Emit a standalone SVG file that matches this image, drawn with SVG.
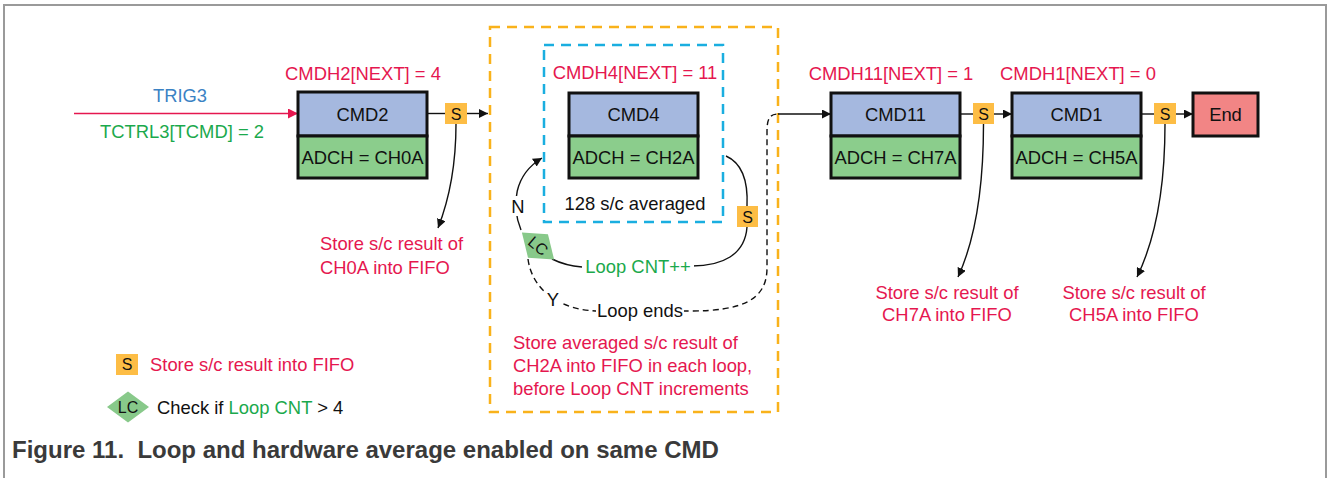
<svg xmlns="http://www.w3.org/2000/svg" width="1328" height="478" viewBox="0 0 1328 478">
  <style>
    text { font-family: "Liberation Sans", Arial, sans-serif; font-size: 18.4px; }
    .c { text-anchor: middle; }
    .red { fill: #e5174f; }
    .grn { fill: #1ba94c; }
    .blu { fill: #3b82c4; }
    .blk { fill: #111; }
    .top { fill: #a5b8df; stroke: #111; stroke-width: 3; }
    .bot { fill: #8bcd8c; stroke: #111; stroke-width: 3; }
    .end { fill: #f28585; stroke: #111; stroke-width: 3; }
    .s { fill: #fdbd45; }
    .st { font-size: 16px; text-anchor: middle; fill: #111; }
    .lc { fill: #88c98a; }
    .ln { fill: none; stroke: #111; stroke-width: 1.4; }
    .dash { fill: none; stroke: #111; stroke-width: 1.4; stroke-dasharray: 6 4; }
    .lbl { fill: #fff; }
    .cap { font-weight: bold; font-size: 24px; fill: #3a3a3a; }
  </style>
  <defs>
    <marker id="ah" viewBox="0 0 10 10" refX="10" refY="5" markerWidth="9" markerHeight="9" markerUnits="userSpaceOnUse" orient="auto">
      <path d="M0,0 L10,5 L0,10 z" fill="#111"/>
    </marker>
    <marker id="ahr" viewBox="0 0 10 10" refX="10" refY="5" markerWidth="10" markerHeight="10" markerUnits="userSpaceOnUse" orient="auto">
      <path d="M0,0 L10,5 L0,10 z" fill="#e5174f"/>
    </marker>
  </defs>

  <!-- outer frame -->
  <path d="M4,478 V5 H1326 V478" fill="none" stroke="#9a9a9a" stroke-width="2"/>

  <!-- loop region frames -->
  <g id="loop-frame">
    <rect x="490" y="27" width="288" height="385" fill="none" stroke="#f9b21b" stroke-width="2.5" stroke-dasharray="10 7"/>
    <rect x="544" y="45" width="179" height="177" fill="none" stroke="#1aaee0" stroke-width="2.5" stroke-dasharray="10 7"/>
  </g>

  <!-- connectors -->
  <g id="connectors">
    <line x1="74" y1="113.5" x2="298" y2="113.5" stroke="#e5174f" stroke-width="1.6" marker-end="url(#ahr)"/>
    <line x1="427" y1="113.5" x2="445" y2="113.5" class="ln"/>
    <line x1="467" y1="113.5" x2="488" y2="113.5" class="ln" marker-end="url(#ah)"/>
    <path d="M456,124 C456,170 447,205 438,228" class="ln" marker-end="url(#ah)"/>

    <!-- loop: store, increment, check -->
    <path d="M726,156 C744,164 748,185 747,206" class="ln"/>
    <path d="M747,227 C745,255 722,266 692,266" class="ln"/>
    <path d="M582,267 C570,266 560,263 552,259" class="ln"/>
    <path d="M521,230 C511,205 514,175 542,158" class="ln" marker-end="url(#ah)"/>
    <path d="M528,259 C532,290 560,311 600,311 L690,311 C742,311 767,300 767,268 L767,132 C767,120 769,114 778,114" class="dash"/>
    <line x1="778" y1="114" x2="831" y2="114" class="ln" marker-end="url(#ah)"/>

    <line x1="960" y1="114" x2="973" y2="114" class="ln"/>
    <line x1="994" y1="114" x2="1012" y2="114" class="ln" marker-end="url(#ah)"/>
    <path d="M983.5,124 C983.5,190 975,240 958,277" class="ln" marker-end="url(#ah)"/>
    <line x1="1141" y1="114" x2="1154" y2="114" class="ln"/>
    <line x1="1176" y1="114" x2="1193" y2="114" class="ln" marker-end="url(#ah)"/>
    <path d="M1165,124 C1165,190 1155,240 1137,277" class="ln" marker-end="url(#ah)"/>
  </g>

  <!-- trigger -->
  <g id="trigger">
    <text x="180" y="101.5" class="c blu">TRIG3</text>
    <text x="182" y="137.5" class="c grn">TCTRL3[TCMD] = 2</text>
  </g>

  <!-- CMD2 -->
  <g id="cmd2">
    <text x="363" y="79.5" class="c red">CMDH2[NEXT] = 4</text>
    <rect x="298" y="92" width="129" height="44" class="top"/>
    <rect x="298" y="136" width="129" height="42" class="bot"/>
    <text x="362.5" y="120.5" class="c blk">CMD2</text>
    <text x="362.5" y="163.5" class="c blk">ADCH = CH0A</text>
  </g>
  <g id="s-cmd2">
    <rect x="445" y="103" width="22" height="21" class="s"/>
    <text x="456" y="119.5" class="st">S</text>
  </g>
  <g id="note-ch0a">
    <text x="320" y="249.5" class="red">Store s/c result of</text>
    <text x="320" y="273.5" class="red">CH0A into FIFO</text>
  </g>

  <!-- CMD4 -->
  <g id="cmd4">
    <text x="635" y="78.5" class="c red">CMDH4[NEXT] = 11</text>
    <rect x="569" y="93" width="129" height="43" class="top"/>
    <rect x="569" y="136" width="129" height="42" class="bot"/>
    <text x="633.5" y="120.5" class="c blk">CMD4</text>
    <text x="633.5" y="163.5" class="c blk">ADCH = CH2A</text>
    <text x="635" y="209.5" class="c blk">128 s/c averaged</text>
  </g>
  <g id="s-cmd4">
    <rect x="737" y="206" width="21" height="21" class="s"/>
    <text x="747.5" y="222.5" class="st">S</text>
  </g>
  <g id="loop-labels">
    <rect x="584" y="255" width="110" height="22" class="lbl"/>
    <text x="638" y="272.5" class="c grn">Loop CNT++</text>
    <rect x="510" y="196" width="16" height="20" class="lbl"/>
    <text x="518" y="212.5" class="c blk">N</text>
    <rect x="546" y="290" width="15" height="20" class="lbl"/>
    <text x="553" y="306" class="c blk">Y</text>
    <rect x="596" y="299" width="88" height="22" class="lbl"/>
    <text x="640" y="316.5" class="c blk">Loop ends</text>
  </g>
  <g id="lc-check" transform="translate(538,246) rotate(40)">
    <polygon points="-21,0 0,-15.5 21,0 0,15.5" class="lc"/>
    <text x="0" y="5.5" class="st">LC</text>
  </g>
  <g id="note-ch2a">
    <text x="513" y="348.5" class="red">Store averaged s/c result of</text>
    <text x="513" y="371.5" class="red">CH2A into FIFO in each loop,</text>
    <text x="513" y="394.5" class="red">before Loop CNT increments</text>
  </g>

  <!-- CMD11 -->
  <g id="cmd11">
    <text x="891" y="79.5" class="c red">CMDH11[NEXT] = 1</text>
    <rect x="831" y="93" width="129" height="43" class="top"/>
    <rect x="831" y="136" width="129" height="42" class="bot"/>
    <text x="895.5" y="120.5" class="c blk">CMD11</text>
    <text x="895.5" y="163.5" class="c blk">ADCH = CH7A</text>
  </g>
  <g id="s-cmd11">
    <rect x="973" y="103" width="21" height="21" class="s"/>
    <text x="983.5" y="119.5" class="st">S</text>
  </g>
  <g id="note-ch7a">
    <text x="947" y="298.5" class="c red">Store s/c result of</text>
    <text x="947" y="320.5" class="c red">CH7A into FIFO</text>
  </g>

  <!-- CMD1 -->
  <g id="cmd1">
    <text x="1078" y="79.5" class="c red">CMDH1[NEXT] = 0</text>
    <rect x="1012" y="93" width="129" height="43" class="top"/>
    <rect x="1012" y="136" width="129" height="42" class="bot"/>
    <text x="1076.5" y="120.5" class="c blk">CMD1</text>
    <text x="1076.5" y="163.5" class="c blk">ADCH = CH5A</text>
  </g>
  <g id="s-cmd1">
    <rect x="1154" y="103" width="22" height="21" class="s"/>
    <text x="1165" y="119.5" class="st">S</text>
  </g>
  <g id="note-ch5a">
    <text x="1134" y="298.5" class="c red">Store s/c result of</text>
    <text x="1134" y="320.5" class="c red">CH5A into FIFO</text>
  </g>

  <!-- End -->
  <g id="end">
    <rect x="1193" y="93" width="65" height="43" class="end"/>
    <text x="1225.5" y="120.5" class="c blk">End</text>
  </g>

  <!-- legend -->
  <g id="legend-s">
    <rect x="116" y="354" width="22" height="21" class="s"/>
    <text x="127" y="370" class="st">S</text>
    <text x="150" y="370.5" class="red">Store s/c result into FIFO</text>
  </g>
  <g id="legend-lc">
    <polygon points="107,407 128,391.5 149,407 128,422.5" class="lc"/>
    <text x="128" y="412.5" class="st">LC</text>
    <text x="157" y="413.5" class="blk">Check if <tspan class="grn">Loop CNT</tspan> &gt; 4</text>
  </g>

  <!-- caption -->
  <text x="12" y="458" class="cap" xml:space="preserve">Figure 11.  Loop and hardware average enabled on same CMD</text>
</svg>
